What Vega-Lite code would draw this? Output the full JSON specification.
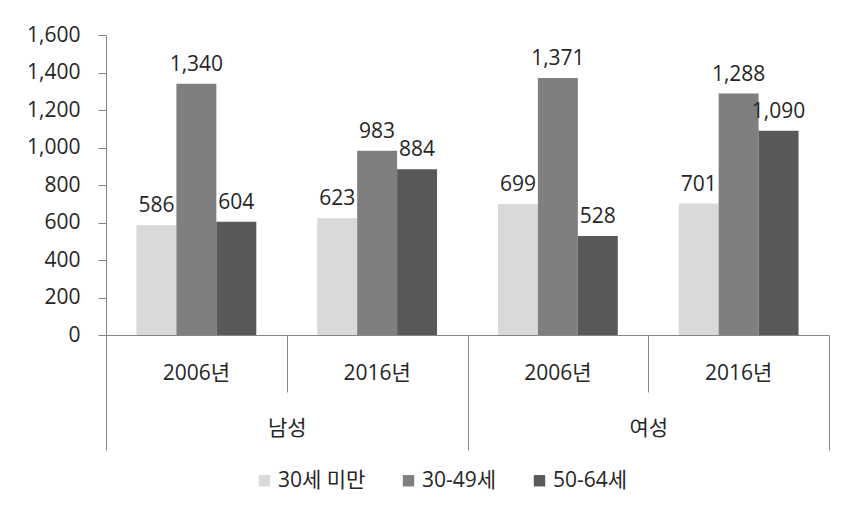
{
  "$schema": "https://vega.github.io/schema/vega-lite/v6.json",
  "width": 723,
  "height": 300,
  "autosize": {"type": "none"},
  "padding": {"left": 106, "top": 35, "right": 17, "bottom": 179},
  "background": "white",
  "config": {
    "view": {"stroke": null},
    "font": "Open Sans, Noto Sans CJK KR",
    "axis": {"grid": false, "labelFont": "Open Sans, Noto Sans CJK KR", "labelColor": "#262626", "labelFontSize": 21, "domainColor": "#868686", "tickColor": "#868686", "title": null},
    "legend": {"labelFont": "Open Sans, Noto Sans CJK KR", "labelColor": "#262626"}
  },
  "data": {
    "values": [
      {"gender": "남성", "year": "2006년", "group": "남성 2006년", "age": "30세 미만", "value": 586},
      {"gender": "남성", "year": "2006년", "group": "남성 2006년", "age": "30-49세", "value": 1340},
      {"gender": "남성", "year": "2006년", "group": "남성 2006년", "age": "50-64세", "value": 604},
      {"gender": "남성", "year": "2016년", "group": "남성 2016년", "age": "30세 미만", "value": 623},
      {"gender": "남성", "year": "2016년", "group": "남성 2016년", "age": "30-49세", "value": 983},
      {"gender": "남성", "year": "2016년", "group": "남성 2016년", "age": "50-64세", "value": 884},
      {"gender": "여성", "year": "2006년", "group": "여성 2006년", "age": "30세 미만", "value": 699},
      {"gender": "여성", "year": "2006년", "group": "여성 2006년", "age": "30-49세", "value": 1371},
      {"gender": "여성", "year": "2006년", "group": "여성 2006년", "age": "50-64세", "value": 528},
      {"gender": "여성", "year": "2016년", "group": "여성 2016년", "age": "30세 미만", "value": 701},
      {"gender": "여성", "year": "2016년", "group": "여성 2016년", "age": "30-49세", "value": 1288},
      {"gender": "여성", "year": "2016년", "group": "여성 2016년", "age": "50-64세", "value": 1090}
    ]
  },
  "layer": [
    {
      "encoding": {
        "x": {
          "field": "group", "type": "nominal",
          "sort": ["남성 2006년", "남성 2016년", "여성 2006년", "여성 2016년"],
          "scale": {"paddingInner": 0.337, "paddingOuter": 0.1685},
          "axis": {"orient": "bottom", "labelExpr": "split(datum.label, ' ')[1]", "labelAngle": 0, "ticks": false, "tickSize": 0, "domain": true, "labelPadding": 27, "labelBaseline": "top"}
        },
        "xOffset": {"field": "age", "type": "nominal", "sort": ["30세 미만", "30-49세", "50-64세"], "scale": {"paddingInner": 0, "paddingOuter": 0}},
        "y": {
          "field": "value", "type": "quantitative",
          "scale": {"domain": [0, 1600], "nice": false},
          "axis": {"values": [0, 200, 400, 600, 800, 1000, 1200, 1400, 1600], "format": ",d", "tickSize": 8, "labelPadding": 18, "domain": true}
        }
      },
      "layer": [
        {
          "mark": {"type": "bar"},
          "encoding": {
            "color": {
              "field": "age", "type": "nominal",
              "sort": ["30세 미만", "30-49세", "50-64세"],
              "scale": {"domain": ["30세 미만", "30-49세", "50-64세"], "range": ["#d9d9d9", "#7f7f7f", "#595959"]},
              "legend": {"orient": "none", "legendX": 148, "legendY": 435, "direction": "horizontal", "title": null, "symbolType": "square", "symbolSize": 130, "symbolStrokeWidth": 0, "labelFontSize": 21, "columnPadding": 32, "labelOffset": 3}
            }
          }
        },
        {
          "mark": {"type": "text", "baseline": "alphabetic", "dy": -13, "fontSize": 21, "color": "#262626"},
          "encoding": {"text": {"field": "value", "type": "quantitative", "format": ",d"}}
        }
      ]
    },
    {
      "mark": {"type": "point", "opacity": 0},
      "encoding": {
        "x": {
          "datum": 0, "type": "quantitative",
          "scale": {"domain": [0, 4], "nice": false, "zero": false},
          "axis": {"orient": "bottom", "values": [0, 1, 2, 3, 4], "labels": false, "domain": false, "grid": false, "tickSize": {"condition": {"test": "datum.value === 0 || datum.value === 2 || datum.value === 4", "value": 115}, "value": 57}, "tickColor": "#868686"}
        }
      }
    },
    {
      "mark": {"type": "point", "opacity": 0},
      "encoding": {
        "x": {
          "datum": 0, "type": "quantitative",
          "scale": {"domain": [0, 4], "nice": false, "zero": false},
          "axis": {"orient": "bottom", "values": [1, 3], "labelExpr": "datum.value === 1 ? '남성' : '여성'", "ticks": false, "tickSize": 0, "domain": false, "labelPadding": 82, "labelBaseline": "top", "labelFontSize": 21}
        }
      }
    }
  ],
  "resolve": {"scale": {"x": "independent"}}
}
